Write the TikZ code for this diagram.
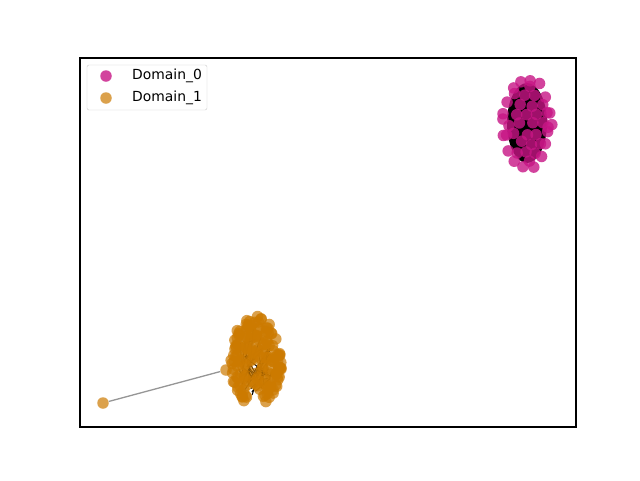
\documentclass[tikz,border=0pt]{standalone}
\usepackage{fontspec}
\setmainfont{DejaVu Sans}
\definecolor{domzero}{RGB}{199,21,133}
\definecolor{domone}{RGB}{204,122,0}
\definecolor{legframe}{RGB}{204,204,204}
\definecolor{linkgray}{RGB}{150,150,150}
\tikzset{
  dot/.style={circle, inner sep=0pt, minimum size=11.5pt},
  dom0/.style={dot, fill=domzero, fill opacity=0.8},
  dom1/.style={dot, fill=domone, fill opacity=0.7},
  edge/.style={black, line width=1pt},
}
\begin{document}
\begin{tikzpicture}[x=1pt, y=-1pt]
    % --- canvas and axes frame ---
    \useasboundingbox[fill=white] (0,0) rectangle (640,480);
    \draw[line width=1.1pt] (80,58) rectangle (576,427);

    % --- Domain_0 cluster (top right) ---
    % edges under the nodes
    \fill[black] (527,123) ellipse [x radius=20, y radius=40];
    \pgfmathsetseed{23}
    \foreach \u in {-3,...,3} {
        \foreach \v in {-5,...,5} {
            \pgfmathparse{((\u*10.5/22)^2+(\v*9.5/40)^2<=1)?1:0}
            \ifdim\pgfmathresult pt>0.5pt
                \node[dom0] (z\u\v) at ({526+10.5*\u+2*rand+5*mod(\v+5,2)}, {124+9.5*\v+2*rand}) {};
            \fi
        }
    }
    % outer ring
    \foreach \i in {0,...,15} {
        \node[dom0] (y\i) at ({527+23*cos(22.5*\i+7)+2*rand}, {123+44*sin(22.5*\i+7)+2*rand}) {};
    }

    % --- Domain_1 cluster (bottom left) ---
    % edges under the nodes
    \foreach \i in {1,...,40} {
        \pgfmathsetmacro\ang{360*rnd}
        \pgfmathsetmacro\rad{sqrt(rnd)}
        \pgfmathsetmacro\angb{360*rnd}
        \pgfmathsetmacro\radb{sqrt(rnd)}
        \draw[edge] ({255+18*\rad*cos(\ang)}, {362+34*\rad*sin(\ang)})
            -- ({255+18*\radb*cos(\angb)}, {362+34*\radb*sin(\angb)});
    }
    \foreach \i in {1,...,160} {
        \pgfmathsetmacro\ang{360*rnd}
        \pgfmathsetmacro\rad{sqrt(rnd)}
        \node[dom1] (d\i) at ({256+26*\rad*cos(\ang)}, {361+45*\rad*sin(\ang)}) {};
    }

    % --- the lone Domain_1 node and its link ---
    \node[dom1] (lone) at (103,403) {};
    \node[dom1] (hub) at (226,370) {};
    \draw[linkgray, line width=1.3pt] (lone) -- (hub);

    % --- legend ---
    \draw[legframe, fill=white, fill opacity=0.8, rounded corners=2pt] (87,65) rectangle (207,110);
    \node[dom0] (leg0) at (106,76) {};
    \node[dom1] (leg1) at (106,98) {};
    \node[anchor=west, inner sep=0pt, font=\fontsize{13.9}{16}\selectfont] (lab0) at (132,76) {Domain\_0};
    \node[anchor=west, inner sep=0pt, font=\fontsize{13.9}{16}\selectfont] (lab1) at (132,98) {Domain\_1};
\end{tikzpicture}
\end{document}
